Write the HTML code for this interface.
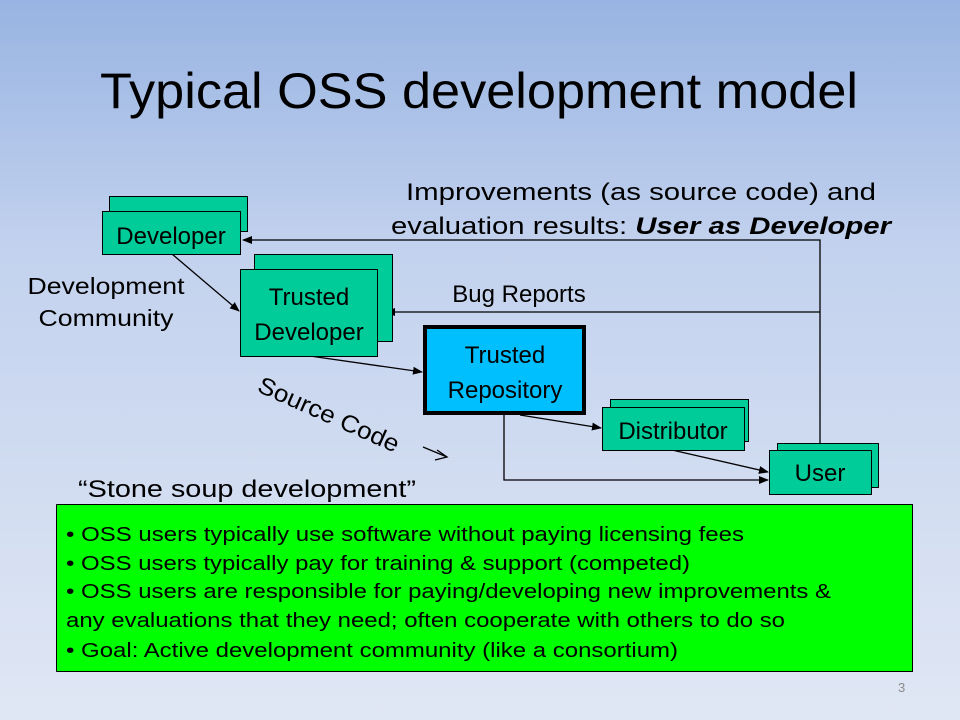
<!DOCTYPE html>
<html><head><meta charset="utf-8"><style>
html,body{margin:0;padding:0;width:960px;height:720px;overflow:hidden}
svg{display:block}
text{font-family:"Liberation Sans",Arial,sans-serif;fill:#000}
</style></head><body>
<svg width="960" height="720" viewBox="0 0 960 720" xmlns="http://www.w3.org/2000/svg">
<defs>
<linearGradient id="bg" x1="0" y1="0" x2="0" y2="1">
<stop offset="0" stop-color="#98b4e2"/>
<stop offset="0.35" stop-color="#c3d2ee"/>
<stop offset="1" stop-color="#e0e7f4"/>
</linearGradient>
<marker id="ar" markerWidth="10" markerHeight="8" refX="9" refY="4" orient="auto" markerUnits="userSpaceOnUse">
<path d="M0,0 L10,4 L0,8 Z" fill="#000"/>
</marker>
</defs>
<rect width="960" height="720" fill="url(#bg)"/>
<text x="100" y="108" font-size="50" textLength="758" lengthAdjust="spacingAndGlyphs">Typical OSS development model</text>

<polyline points="820,443 820,240 243,240" fill="none" stroke="#000" stroke-width="1.3" marker-end="url(#ar)"/>
<polyline points="820,312 386,312" fill="none" stroke="#000" stroke-width="1.3" marker-end="url(#ar)"/>
<line x1="172" y1="254" x2="239" y2="311" stroke="#000" stroke-width="1.3" marker-end="url(#ar)"/>
<line x1="310" y1="356" x2="422" y2="372" stroke="#000" stroke-width="1.3" marker-end="url(#ar)"/>
<line x1="520" y1="415" x2="601" y2="428" stroke="#000" stroke-width="1.3" marker-end="url(#ar)"/>
<line x1="672" y1="450" x2="768" y2="472" stroke="#000" stroke-width="1.3" marker-end="url(#ar)"/>
<polyline points="504,415 504,480 768,480" fill="none" stroke="#000" stroke-width="1.3" marker-end="url(#ar)"/>

<rect x="109.5" y="196.5" width="138" height="35" fill="#00cc99" stroke="#000"/>
<rect x="102.5" y="211.5" width="138" height="43" fill="#00cc99" stroke="#000"/>
<text x="171" y="244" font-size="24" text-anchor="middle">Developer</text>

<rect x="254.5" y="254.5" width="138" height="87" fill="#00cc99" stroke="#000"/>
<rect x="240.5" y="269.5" width="137" height="87" fill="#00cc99" stroke="#000"/>
<text x="309" y="305" font-size="24" text-anchor="middle">Trusted</text>
<text x="309" y="340" font-size="24" text-anchor="middle">Developer</text>

<rect x="425" y="327" width="159" height="86" fill="#00bfff" stroke="#000" stroke-width="4"/>
<text x="505" y="363" font-size="24" text-anchor="middle">Trusted</text>
<text x="505" y="398" font-size="24" text-anchor="middle">Repository</text>

<rect x="610.5" y="399.5" width="138" height="42" fill="#00cc99" stroke="#000"/>
<rect x="602.5" y="407.5" width="142" height="43" fill="#00cc99" stroke="#000"/>
<text x="673" y="439" font-size="24" text-anchor="middle">Distributor</text>

<rect x="777.5" y="443.5" width="101" height="44" fill="#00cc99" stroke="#000"/>
<rect x="769.5" y="450.5" width="102" height="44" fill="#00cc99" stroke="#000"/>
<text x="820" y="481" font-size="24" text-anchor="middle">User</text>

<text x="106" y="294" font-size="23" text-anchor="middle" textLength="157" lengthAdjust="spacingAndGlyphs">Development</text>
<text x="106" y="326" font-size="23" text-anchor="middle" textLength="135" lengthAdjust="spacingAndGlyphs">Community</text>
<text x="519" y="302" font-size="24" text-anchor="middle">Bug Reports</text>
<text x="641" y="200" font-size="24" text-anchor="middle" textLength="470" lengthAdjust="spacingAndGlyphs">Improvements (as source code) and</text>
<text x="391" y="234" font-size="24" textLength="500" lengthAdjust="spacingAndGlyphs">evaluation results: <tspan font-weight="bold" font-style="italic">User as Developer</tspan></text>
<text x="0" y="0" font-size="24" transform="translate(256,391) rotate(24)" textLength="152" lengthAdjust="spacingAndGlyphs">Source Code</text>
<line x1="423" y1="447" x2="447" y2="457" stroke="#000" stroke-width="1.3"/>
<polyline points="437,450 447,457 435,460" fill="none" stroke="#000" stroke-width="1.3"/>
<text x="78" y="497" font-size="24" textLength="338" lengthAdjust="spacingAndGlyphs">“Stone soup development”</text>

<rect x="56.5" y="504.5" width="856" height="167" fill="#00ff00" stroke="#000"/>
<text x="66" y="541" font-size="20" textLength="678" lengthAdjust="spacingAndGlyphs">•  OSS users typically use software without paying licensing fees</text>
<text x="66" y="570" font-size="20" textLength="624" lengthAdjust="spacingAndGlyphs">• OSS users typically pay for training &amp; support (competed)</text>
<text x="66" y="598" font-size="20" textLength="765" lengthAdjust="spacingAndGlyphs">• OSS users are responsible for paying/developing new improvements &amp;</text>
<text x="66" y="627" font-size="20" textLength="719" lengthAdjust="spacingAndGlyphs">any evaluations that they need; often cooperate with others to do so</text>
<text x="66" y="657" font-size="20" textLength="612" lengthAdjust="spacingAndGlyphs">• Goal: Active  development community (like a consortium)</text>

<text x="898" y="692" font-size="13" style="fill:#8c8c8c">3</text>
</svg>
</body></html>
